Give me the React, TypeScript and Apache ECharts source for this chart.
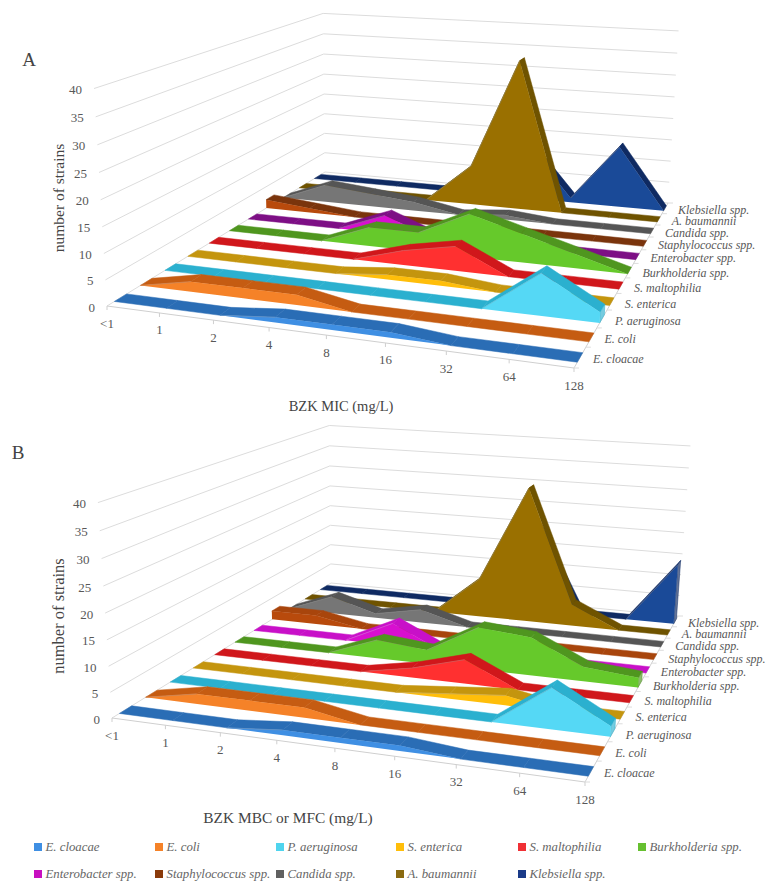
import React, { useEffect, useRef } from "react";
import * as echarts from "echarts";

const doses = ["<1", "1", "2", "4", "8", "16", "32", "64", "128"];
const species = ["E. cloacae", "E. coli", "P. aeruginosa", "S. enterica", "S. maltophilia", "Burkholderia spp.", "Enterobacter spp.", "Staphylococcus spp.", "Candida spp.", "A. baumannii", "Klebsiella spp."];
const valueTicks = [0, 5, 10, 15, 20, 25, 30, 35, 40];

const micCloacae = [0, 0, 0, 1, 1, 1, 0, 0, 0];
const micColi = [0, 2, 2, 2, 0, 0, 0, 0, 0];
const micAeruginosa = [0, 0, 0, 0, 0, 0, 0, 8, 2];
const micEnterica = [0, 0, 0, 0, 1, 1, 0, 0, 0];
const micMaltophilia = [0, 0, 0, 0, 3, 5, 0, 0, 0];
const micBurkholderia = [0, 0, 0, 4, 4, 9, 6, 3, 0];
const micEnterobacter = [0, 0, 0, 4, 0, 0, 0, 0, 0];
const micStaph = [2, 1, 0, 0, 0, 0, 0, 0, 0];
const micCandida = [0, 4, 3, 2, 0, 1, 0, 0, 0];
const micBaumannii = [0, 0, 0, 0, 9, 34, 0, 0, 0];
const micKlebsiella = [0, 0, 0, 0, 0, 13, 1, 14, 0];

const mbcCloacae = [0, 0, 0, 1, 1, 1, 0, 0, 0];
const mbcColi = [0, 2, 2, 2, 0, 0, 0, 0, 0];
const mbcAeruginosa = [0, 0, 0, 0, 0, 0, 0, 8, 2];
const mbcEnterica = [0, 0, 0, 0, 0, 1, 2, 0, 0];
const mbcMaltophilia = [0, 0, 0, 0, 2, 5, 0, 0, 0];
const mbcBurkholderia = [0, 0, 0, 4, 3, 9, 8, 3, 2];
const mbcEnterobacter = [0, 0, 0, 5, 0, 0, 0, 0, 0];
const mbcStaph = [2, 2, 0, 0, 0, 0, 0, 0, 0];
const mbcCandida = [0, 4, 1, 3, 0, 0, 0, 0, 0];
const mbcBaumannii = [0, 0, 0, 0, 9, 31, 5, 0, 0];
const mbcKlebsiella = [0, 0, 0, 0, 0, 20, 0, 0, 14];

const micValues = [micCloacae, micColi, micAeruginosa, micEnterica, micMaltophilia, micBurkholderia, micEnterobacter, micStaph, micCandida, micBaumannii, micKlebsiella];
const mbcValues = [mbcCloacae, mbcColi, mbcAeruginosa, mbcEnterica, mbcMaltophilia, mbcBurkholderia, mbcEnterobacter, mbcStaph, mbcCandida, mbcBaumannii, mbcKlebsiella];

const faceColors = ["#3f8fe3", "#f58228", "#55d8f5", "#ffbe0a", "#ff3030", "#66c92b", "#d80fd0", "#b84a0c", "#767676", "#9a7000", "#1a4a98"];
const stripColorsA = ["#2a6db5", "#c55c12", "#2bb0cf", "#c4950e", "#d0171b", "#4f961f", "#7d0f85", "#7a340c", "#555555", "#6f5300", "#0f2a62"];
const stripColorsB = ["#2a6db5", "#c55c12", "#2bb0cf", "#c4950e", "#d0171b", "#4f961f", "#c810c8", "#a8450c", "#555555", "#6f5300", "#0f2a62"];
const legendSwatches = ["#3f8fe3", "#f58228", "#4fd4ee", "#ffbe0a", "#f03035", "#66c030", "#c80fc0", "#8a3a0a", "#606060", "#8a6a10", "#1a3a88"];

const SERIF = "'Liberation Serif', serif";
const TEXT_GREY = "#585858";

type P = [number, number];

function solve(A: number[][], b: number[]): number[] {
  const n = b.length;
  const M = A.map((r, i) => [...r, b[i]]);
  for (let c = 0; c < n; c++) {
    let p = c;
    for (let r = c + 1; r < n; r++) if (Math.abs(M[r][c]) > Math.abs(M[p][c])) p = r;
    [M[c], M[p]] = [M[p], M[c]];
    for (let r = 0; r < n; r++) {
      if (r === c) continue;
      const f = M[r][c] / M[c][c];
      for (let k = c; k <= n; k++) M[r][k] -= f * M[c][k];
    }
  }
  return M.map((r, i) => r[n] / r[i]);
}

// Perspective camera of one panel, fitted from floor corners and three corners of the top of the walls.
function makeCamera(fl: P, fr: P, br: P, bl: P, fl40: P, br40: P, bl40: P) {
  const uv: P[] = [[0, 0], [1, 0], [1, 1], [0, 1]];
  const pts = [fl, fr, br, bl];
  const A: number[][] = [];
  const b: number[] = [];
  pts.forEach((p, i) => {
    const [u, v] = uv[i];
    A.push([u, v, 1, 0, 0, 0, -u * p[0], -v * p[0]]); b.push(p[0]);
    A.push([0, 0, 0, u, v, 1, -u * p[1], -v * p[1]]); b.push(p[1]);
  });
  const [a1, a2, a3, b1, b2, b3, g, h] = solve(A, b);
  const tops: [number, number, P][] = [[0, 0, fl40], [1, 1, br40], [0, 1, bl40]];
  const rows: number[][] = [];
  const rhs: number[] = [];
  tops.forEach(([u, v, p]) => {
    const w = g * u + h * v + 1;
    rows.push([1, 0, -p[0]]); rhs.push(p[0] * w - (a1 * u + a2 * v + a3));
    rows.push([0, 1, -p[1]]); rhs.push(p[1] * w - (b1 * u + b2 * v + b3));
  });
  const N = [0, 1, 2].map((i) => [0, 1, 2].map((j) => rows.reduce((s, r) => s + r[i] * r[j], 0)));
  const m = [0, 1, 2].map((i) => rows.reduce((s, r, k) => s + r[i] * rhs[k], 0));
  const [px, py, pw] = solve(N, m);
  return (u: number, v: number, t: number): P => {
    const w = g * u + h * v + 1 + pw * t;
    return [(a1 * u + a2 * v + a3 + px * t) / w, (b1 * u + b2 * v + b3 + py * t) / w];
  };
}

const cameraA = makeCamera([107, 306], [574, 368], [668, 203], [325, 172], [95, 89], [679, 31], [322, 13]);
const cameraB = makeCamera([112, 718], [585, 782], [678, 616], [331, 583], [99, 503], [691, 444], [328, 427]);

const SLOTS = species.length;
const RIBBON_FRONT = 0.27;
const RIBBON_BACK = 0.73;

function frameSeries(camera: ReturnType<typeof makeCamera>, axisIndex: number) {
  const lineStyle = { stroke: "#dcdcdc", lineWidth: 1, fill: "none" };
  return {
    type: "custom",
    coordinateSystem: "cartesian2d",
    xAxisIndex: axisIndex,
    yAxisIndex: axisIndex,
    silent: true,
    clip: false,
    data: [[0, 0]],
    encode: { x: 0, y: 1 },
    renderItem: (params: any, api: any) => {
      const cs = params.coordSys;
      const toU = (i: number) => (api.coord([i, 0])[0] - cs.x) / cs.width;
      const toT = (val: number) => (cs.y + cs.height - api.coord([0, val])[1]) / cs.height;
      const children: any[] = [];
      valueTicks.forEach((val) => {
        const t = toT(val);
        const a = camera(0, 0, t), b = camera(0, 1, t), c = camera(1, 1, t);
        children.push({ type: "polyline", shape: { points: [a, b, c] }, style: lineStyle });
        children.push({
          type: "text",
          style: { text: String(val), x: a[0] - 12, y: a[1] + 1, textAlign: "right", textVerticalAlign: "middle", font: `13px ${SERIF}`, fill: TEXT_GREY },
        });
      });
      const f0 = camera(0, 0, 0), f1 = camera(1, 0, 0), b1 = camera(1, 1, 0);
      children.push({ type: "polyline", shape: { points: [f0, f1, b1] }, style: { ...lineStyle, stroke: "#cfcfcf" } });
      doses.forEach((d, i) => {
        const p = camera(toU(i), 0, 0);
        children.push({ type: "line", shape: { x1: p[0], y1: p[1], x2: p[0], y2: p[1] + 4 }, style: { stroke: "#cfcfcf", lineWidth: 1 } });
        children.push({
          type: "text",
          style: { text: d, x: p[0], y: p[1] + 17, textAlign: "center", textVerticalAlign: "middle", font: `13px ${SERIF}`, fill: TEXT_GREY },
        });
      });
      for (let s = 0; s <= SLOTS; s++) {
        const p = camera(1, s / SLOTS, 0);
        children.push({ type: "line", shape: { x1: p[0], y1: p[1], x2: p[0] + 5, y2: p[1] }, style: { stroke: "#dcdcdc", lineWidth: 1 } });
      }
      species.forEach((name, s) => {
        const p = camera(1, (s + 0.5) / SLOTS, 0);
        children.push({
          type: "text",
          style: { text: name, x: p[0] + 13, y: p[1] + 2, textAlign: "left", textVerticalAlign: "middle", font: `italic 12px ${SERIF}`, fill: TEXT_GREY },
        });
      });
      return { type: "group", children };
    },
  };
}

function ribbonSeries(camera: ReturnType<typeof makeCamera>, axisIndex: number, s: number, vals: number[], strip: string) {
  const v0 = (s + RIBBON_FRONT) / SLOTS;
  const v1 = (s + RIBBON_BACK) / SLOTS;
  return {
    type: "custom",
    name: species[s],
    coordinateSystem: "cartesian2d",
    xAxisIndex: axisIndex,
    yAxisIndex: axisIndex,
    silent: true,
    clip: false,
    data: vals.map((val, j) => [j, val]),
    encode: { x: 0, y: 1 },
    renderItem: (params: any, api: any) => {
      if (params.dataIndex !== 0) return null;
      const cs = params.coordSys;
      const at = (j: number, v: number): P => {
        const c = api.coord([j, vals[j]]);
        return camera((c[0] - cs.x) / cs.width, v, (cs.y + cs.height - c[1]) / cs.height);
      };
      const base = (j: number, v: number): P => {
        const c = api.coord([j, 0]);
        return camera((c[0] - cs.x) / cs.width, v, 0);
      };
      const children: any[] = [];
      for (let j = 0; j < vals.length - 1; j++) {
        children.push({
          type: "polygon",
          shape: { points: [at(j, v0), at(j + 1, v0), at(j + 1, v1), at(j, v1)] },
          style: { fill: strip, stroke: strip, lineWidth: 0.5 },
        });
      }
      const last = vals.length - 1;
      if (vals[last] > 0) {
        children.push({
          type: "polygon",
          shape: { points: [base(last, v0), at(last, v0), at(last, v1), base(last, v1)] },
          style: { fill: echarts.color.lift(strip, 0.35), stroke: strip, lineWidth: 0.5 },
        });
      }
      const top = vals.map((_, j) => at(j, v0));
      const bottom = vals.map((_, j) => base(j, v0)).reverse();
      children.push({
        type: "polygon",
        shape: { points: [...top, ...bottom] },
        style: { fill: faceColors[s], stroke: "none" },
      });
      for (let j = 0; j < last; j++) {
        if (vals[j + 1] > vals[j]) {
          children.push({
            type: "line",
            shape: { x1: top[j][0], y1: top[j][1], x2: top[j + 1][0], y2: top[j + 1][1] },
            style: { stroke: echarts.color.lift(strip, 0.25), lineWidth: 1 },
          });
        }
      }
      return { type: "group", children };
    },
  };
}

function panelSeries(camera: ReturnType<typeof makeCamera>, axisIndex: number, table: number[][], strips: string[]) {
  const list: any[] = [frameSeries(camera, axisIndex)];
  for (let s = SLOTS - 1; s >= 0; s--) list.push(ribbonSeries(camera, axisIndex, s, table[s], strips[s]));
  return list;
}

function legendGraphics() {
  const colX = [34, 155, 276, 396, 518, 638];
  const rows = [847, 874];
  const out: any[] = [];
  species.forEach((name, i) => {
    const x = colX[i % 6];
    const y = rows[Math.floor(i / 6)];
    out.push({ type: "rect", shape: { x, y: y - 4, width: 8, height: 8 }, style: { fill: legendSwatches[i] } });
    out.push({
      type: "text",
      style: { text: name, x: x + 11.5, y, textAlign: "left", textVerticalAlign: "middle", font: `italic 12.8px ${SERIF}`, fill: "#666666" },
    });
  });
  return out;
}

function titleText(text: string, x: number, y: number, size: number, extra: any = {}) {
  return {
    type: "text",
    x,
    y,
    ...extra,
    style: { text, x: 0, y: 0, textAlign: "center", textVerticalAlign: "middle", font: `${size}px ${SERIF}`, fill: "#444444" },
  };
}

export default function App() {
  const ref = useRef<HTMLDivElement>(null);
  useEffect(() => {
    const chart = echarts.init(ref.current!, undefined, { renderer: "svg" });
    const axisBase = { show: false };
    chart.setOption({
      animation: false,
      backgroundColor: "#ffffff",
      grid: [
        { show: false, left: 100, top: 20, width: 500, height: 300 },
        { show: false, left: 100, top: 440, width: 500, height: 300 },
      ],
      xAxis: [
        { ...axisBase, type: "category", gridIndex: 0, data: doses, boundaryGap: false },
        { ...axisBase, type: "category", gridIndex: 1, data: doses, boundaryGap: false },
      ],
      yAxis: [
        { ...axisBase, type: "value", gridIndex: 0, min: 0, max: 40 },
        { ...axisBase, type: "value", gridIndex: 1, min: 0, max: 40 },
      ],
      series: [...panelSeries(cameraA, 0, micValues, stripColorsA), ...panelSeries(cameraB, 1, mbcValues, stripColorsB)],
      graphic: [
        titleText("A", 29, 59, 19, {}),
        titleText("B", 18, 452, 19, {}),
        titleText("number of strains", 58, 198, 15.5, { rotation: Math.PI / 2 }),
        titleText("number of strains", 58, 616, 16.5, { rotation: Math.PI / 2 }),
        titleText("BZK MIC (mg/L)", 341, 406, 14.5, {}),
        titleText("BZK MBC or MFC (mg/L)", 288, 817, 15.4, {}),
        ...legendGraphics(),
      ],
    });
    return () => chart.dispose();
  }, []);
  return <div ref={ref} style={{ position: "absolute", left: 0, top: 0, width: 784, height: 891 }} />;
}
